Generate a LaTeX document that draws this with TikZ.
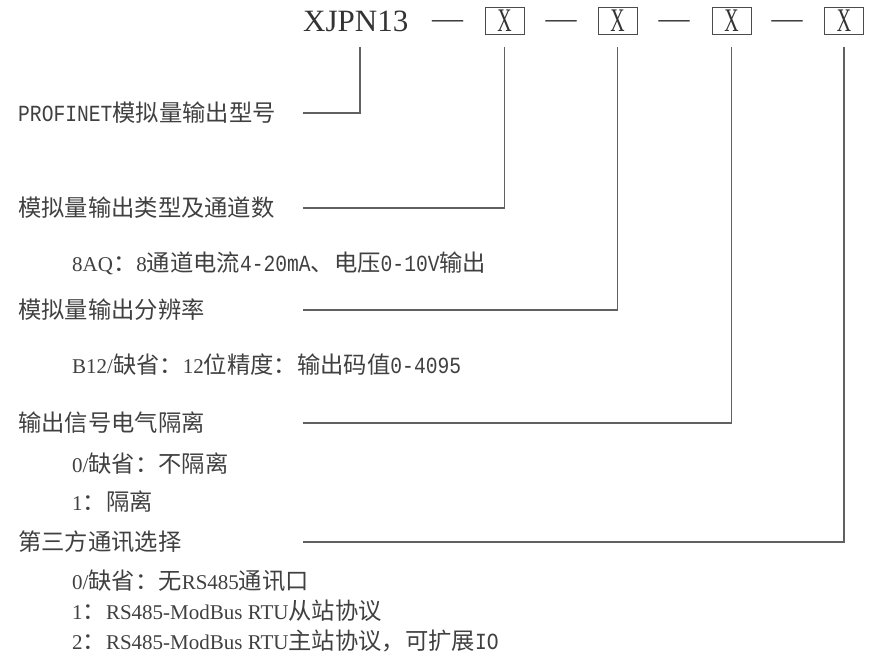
\documentclass[tikz,border=0pt]{standalone}
\usepackage{fontspec}
\setmainfont{Liberation Serif}
\newfontfamily\cjk{Noto Sans CJK SC}[Scale=1.11]
\newfontfamily\hw{Liberation Mono}[Scale=1.1, FakeStretch=0.85]
\newfontfamily\xfont{Liberation Serif}[FakeStretch=0.6]
\newcommand\hm[1]{{\hw #1}}
\tikzset{
  lbl/.style={anchor=west, inner sep=0pt, text=black!75, font=\fontsize{21}{24}\selectfont},
  xbox/.style={draw=black!70, line width=0.9pt, minimum width=39pt, minimum height=27pt,
    inner sep=0pt, text=black!80, font=\xfont\fontsize{33}{33}\selectfont},
  dashmark/.style={anchor=base, inner sep=0pt, text=black!75, font=\fontsize{31}{31}\selectfont},
  lead/.style={draw=black!62, line width=1.2pt},
}
\begin{document}
\begin{tikzpicture}[x=1pt, y=-1pt]
\useasboundingbox (0,0) rectangle (872,656);
% model code
\node[anchor=west, inner sep=0pt, text=black!80, font=\fontsize{31}{31}\selectfont] (model) at (303,21) {XJPN13};
\node[dashmark] (d1) at (447.5,28.4) {—};
\node[xbox] (b1) at (504.5,20.5) {X};
\node[dashmark] (d2) at (561,28.4) {—};
\node[xbox] (b2) at (617.5,20.5) {X};
\node[dashmark] (d3) at (674,28.4) {—};
\node[xbox] (b3) at (731.5,20.5) {X};
\node[dashmark] (d4) at (787,28.4) {—};
\node[xbox] (b4) at (844,20.5) {X};
\coordinate (t0) at (360,47);
% labels
\node[lbl] (h1) at (18,113) {\hm{PROFINET}{\cjk 模拟量输出型号}};
\node[lbl] (h2) at (18,208) {\cjk 模拟量输出类型及通道数};
\node[lbl] (s1) at (72,263) {8AQ{\cjk ：}8{\cjk 通道电流}\hm{4-20mA}{\cjk 、电压}\hm{0-10V}{\cjk 输出}};
\node[lbl] (h3) at (18,310) {\cjk 模拟量输出分辨率};
\node[lbl] (s2) at (72,365) {B12/{\cjk 缺省：}12{\cjk 位精度：输出码值}\hm{0-4095}};
\node[lbl] (h4) at (18,423) {\cjk 输出信号电气隔离};
\node[lbl] (s3) at (72,464) {0/{\cjk 缺省：不隔离}};
\node[lbl] (s4) at (72,502) {1{\cjk ：隔离}};
\node[lbl] (h5) at (18,542) {\cjk 第三方通讯选择};
\node[lbl] (s5) at (72,581) {0/{\cjk 缺省：无}RS485{\cjk 通讯口}};
\node[lbl] (s6) at (72,611) {1{\cjk ：}RS485-ModBus RTU{\cjk 从站协议}};
\node[lbl] (s7) at (72,641) {2{\cjk ：}RS485-ModBus RTU{\cjk 主站协议，可扩展}\hm{IO}};
% leader lines
\coordinate (l1) at (303,113);
\coordinate (l2) at (303,208);
\coordinate (l3) at (303,310);
\coordinate (l4) at (303,423);
\coordinate (l5) at (303,542);
\draw[lead] (l1) -| (t0);
\draw[lead] (l2) -| ([yshift=-13pt]b1.south);
\draw[lead] (l3) -| ([yshift=-13pt]b2.south);
\draw[lead] (l4) -| ([yshift=-13pt]b3.south);
\draw[lead] (l5) -| ([yshift=-13pt]b4.south);
\end{tikzpicture}
\end{document}
